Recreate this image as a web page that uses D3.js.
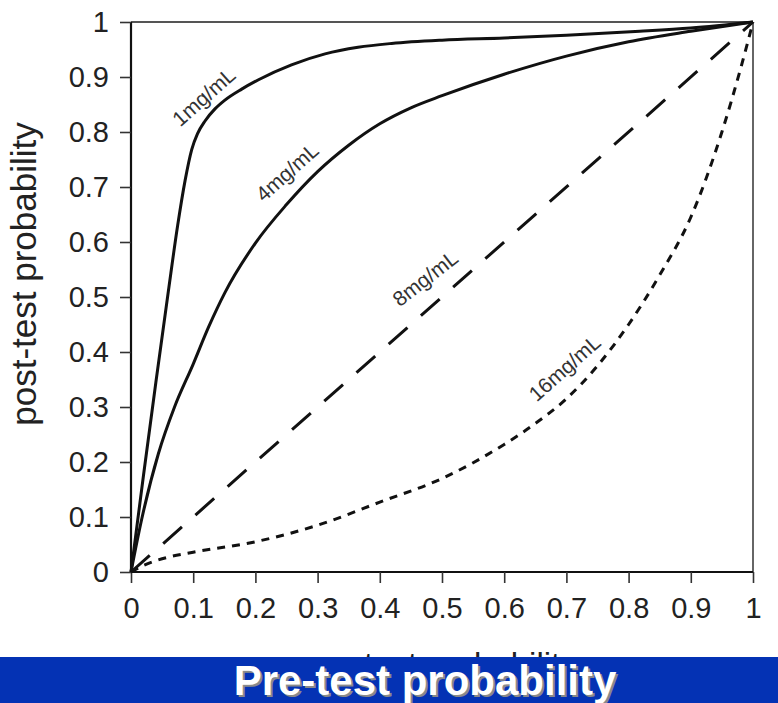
<!DOCTYPE html>
<html>
<head>
<meta charset="utf-8">
<script src="https://cdn.jsdelivr.net/npm/d3@7"></script>
<style>
  html, body { margin: 0; padding: 0; background: #fff; }
  svg { display: block; }
  text { font-family: "Liberation Sans", Arial, Helvetica, sans-serif; }
</style>
</head>
<body>
<div id="chart"></div>
<script>
// valeurs (pré-test -> post-test)
var pre1mg  = [0, 0.02, 0.04, 0.06, 0.075, 0.087, 0.0976, 0.107, 0.119, 0.135, 0.151, 0.178, 0.205, 0.258, 0.312, 0.365, 0.419, 0.5, 0.6, 0.7, 0.818, 0.9, 1];
var post1mg = [0, 0.175, 0.345, 0.51, 0.63, 0.712, 0.768, 0.797, 0.82, 0.842, 0.858, 0.878, 0.895, 0.922, 0.942, 0.954, 0.961, 0.967, 0.971, 0.976, 0.983, 0.989, 1];

var pre4mg  = [0, 0.017, 0.044, 0.07, 0.1, 0.125, 0.151, 0.2, 0.25, 0.3, 0.35, 0.4, 0.45, 0.5, 0.6, 0.7, 0.8, 0.9, 1];
var post4mg = [0, 0.095, 0.215, 0.3, 0.378, 0.446, 0.508, 0.598, 0.668, 0.728, 0.776, 0.815, 0.844, 0.866, 0.905, 0.938, 0.964, 0.983, 1];

var pre8mg  = [0, 1];
var post8mg = [0, 1];

var pre16mg  = [0, 0.02, 0.05, 0.1, 0.2, 0.3, 0.4, 0.5, 0.6, 0.65, 0.7, 0.75, 0.8, 0.85, 0.9, 0.95, 0.98, 1];
var post16mg = [0, 0.012, 0.024, 0.036, 0.055, 0.085, 0.127, 0.17, 0.232, 0.27, 0.315, 0.375, 0.45, 0.54, 0.645, 0.8, 0.915, 1];

var seriesNames = ["1mg/mL", "4mg/mL", "8mg/mL", "16mg/mL"];
// position des étiquettes sur les courbes (en unités de données)
var labelPre  = [0.117, 0.251, 0.473, 0.697];
var labelPost = [0.864, 0.727, 0.534, 0.371];
var labelAngle = [-41.5, -41.7, -38, -41.5];

var tickValues = [0, 0.1, 0.2, 0.3, 0.4, 0.5, 0.6, 0.7, 0.8, 0.9, 1];
var tickLabels = ["0", "0.1", "0.2", "0.3", "0.4", "0.5", "0.6", "0.7", "0.8", "0.9", "1"];

var yTitle = "post-test probability";
var xTitle = "pre-test probability";
var bannerText = "Pre-test probability";

var W = 778, H = 703;

var x = d3.scaleLinear().domain([0, 1]).range([131, 753]),
    y = d3.scaleLinear().domain([0, 1]).range([572, 22]);

var svg = d3.select("#chart").append("svg")
    .attr("width", W)
    .attr("height", H);

// cadre haut / droite
svg.append("line")
    .attr("x1", x(0)).attr("x2", x(1))
    .attr("y1", y(1)).attr("y2", y(1))
    .attr("stroke", "#555").attr("stroke-width", 2);
svg.append("line")
    .attr("x1", x(1)).attr("x2", x(1))
    .attr("y1", y(1)).attr("y2", y(0))
    .attr("stroke", "#666").attr("stroke-width", 2);

// axes
var axY = svg.append("g")
    .attr("transform", "translate(" + x(0) + ",0)")
    .call(d3.axisLeft(y).tickValues(tickValues).tickSize(11).tickPadding(11)
        .tickFormat(function(d, i) { return tickLabels[i]; }));
var axX = svg.append("g")
    .attr("transform", "translate(0," + y(0) + ")")
    .call(d3.axisBottom(x).tickValues(tickValues).tickSize(11).tickPadding(14)
        .tickFormat(function(d, i) { return tickLabels[i]; }));

[axX, axY].forEach(function(a) {
    a.select(".domain").attr("stroke", "#111").attr("stroke-width", 2.2);
    a.selectAll(".tick line").attr("stroke", "#333").attr("stroke-width", 1.6);
    a.selectAll(".tick text")
        .attr("fill", "#222")
        .style("font-size", "29px")
        .style("font-family", "'Liberation Sans', Arial, sans-serif");
});
axY.select(".domain").attr("d", "M0," + y(0) + "V" + y(1));
axX.select(".domain").attr("d", "M" + x(0) + ",0H" + x(1));

// titres d'axes
svg.append("text")
    .attr("transform", "translate(36," + 274 + ") rotate(-90)")
    .attr("text-anchor", "middle")
    .attr("fill", "#222")
    .style("font-size", "35px")
    .text(yTitle);
svg.append("text")
    .attr("x", 441)
    .attr("y", 676)
    .attr("text-anchor", "middle")
    .attr("fill", "#222")
    .style("font-size", "33px")
    .text(xTitle);

// courbes
var line = d3.line()
    .x(function(d) { return x(d[0]); })
    .y(function(d) { return y(d[1]); })
    .curve(d3.curveMonotoneX);

var curves = [
    { pre: pre1mg, post: post1mg, dash: null },
    { pre: pre4mg, post: post4mg, dash: null },
    { pre: pre8mg, post: post8mg, dash: "25,18" },
    { pre: pre16mg, post: post16mg, dash: "8,7" }
];

svg.selectAll("path.curve")
    .data(curves)
    .enter()
    .append("path")
    .attr("class", "curve")
    .attr("d", function(c) { return line(d3.zip(c.pre, c.post)); })
    .attr("fill", "none")
    .attr("stroke", "#111")
    .attr("stroke-width", 3)
    .attr("stroke-dasharray", function(c) { return c.dash; });

// étiquettes des courbes
svg.selectAll("text.lab")
    .data(seriesNames)
    .enter()
    .append("text")
    .attr("class", "lab")
    .attr("transform", function(d, i) {
        return "translate(" + x(labelPre[i]) + "," + y(labelPost[i]) + ") rotate(" + labelAngle[i] + ")";
    })
    .attr("text-anchor", "middle")
    .attr("dy", "0.35em")
    .attr("fill", "#333")
    .style("font-size", "21px")
    .text(function(d) { return d; });

// bandeau bleu
svg.append("rect")
    .attr("x", 0).attr("y", 657)
    .attr("width", W).attr("height", H - 657)
    .attr("fill", "#0432b4");
svg.append("text")
    .attr("x", 427).attr("y", 697)
    .attr("text-anchor", "middle")
    .attr("fill", "#8a8a8a")
    .style("font-size", "42px").style("font-weight", "bold")
    .text(bannerText);
svg.append("text")
    .attr("x", 425).attr("y", 695)
    .attr("text-anchor", "middle")
    .attr("fill", "#fff")
    .style("font-size", "42px").style("font-weight", "bold")
    .text(bannerText);
</script>
</body>
</html>
